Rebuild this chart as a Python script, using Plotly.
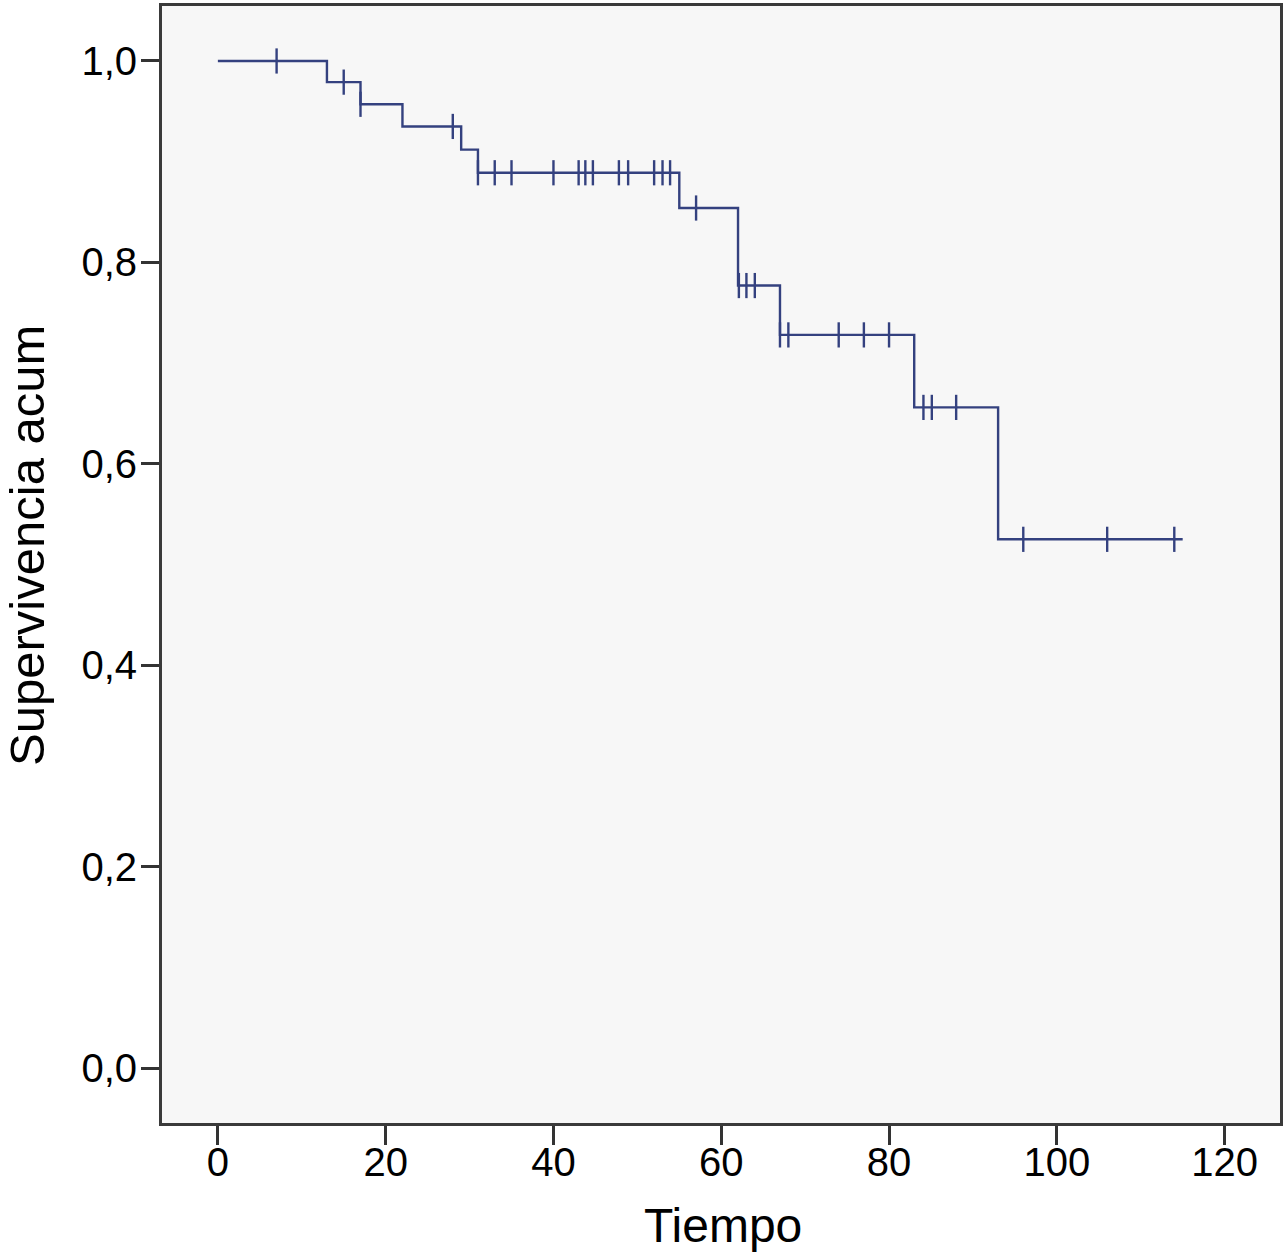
import plotly.graph_objects as go

# Kaplan-Meier step curve (event times and survival levels)
step_t = [0, 13, 17, 22, 29, 31, 55, 62, 67, 83, 93, 115]
step_s = [1.0, 0.979, 0.957, 0.935, 0.912, 0.889, 0.854, 0.777, 0.728, 0.656, 0.525, 0.525]

# Censored observations
cens_t = [7, 15, 17, 28, 31, 33, 35, 40, 43, 43.8, 44.7, 47.8, 48.9, 52, 53, 53.9,
          57, 62.1, 63, 64, 67, 68, 74, 77, 80, 84.1, 85.1, 88, 96, 106, 114]
cens_s = [1.0, 0.979, 0.957, 0.935, 0.889, 0.889, 0.889, 0.889, 0.889, 0.889, 0.889, 0.889, 0.889, 0.889, 0.889, 0.889,
          0.854, 0.777, 0.777, 0.777, 0.728, 0.728, 0.728, 0.728, 0.728, 0.656, 0.656, 0.656, 0.525, 0.525, 0.525]

x_ticks = [0, 20, 40, 60, 80, 100, 120]
y_ticks = [0.0, 0.2, 0.4, 0.6, 0.8, 1.0]
y_tick_labels = ["0,0", "0,2", "0,4", "0,6", "0,8", "1,0"]

x_title = "Tiempo"
y_title = "Supervivencia acum"

line_color = "#34417f"
font_family = "Liberation Sans, Arial, sans-serif"

fig = go.Figure()
fig.add_trace(go.Scatter(
    x=step_t, y=step_s, mode="lines", line=dict(shape="hv", color=line_color, width=2.4),
    showlegend=False, hoverinfo="skip"))
fig.add_trace(go.Scatter(
    x=cens_t, y=cens_s, mode="markers",
    marker=dict(symbol="line-ns-open", size=18, color=line_color,
                line=dict(color=line_color, width=2.4)),
    showlegend=False))

fig.update_layout(
    width=1286, height=1254,
    margin=dict(l=162, r=3, t=6, b=131),
    paper_bgcolor="white", plot_bgcolor="#f7f7f7",
    font=dict(family=font_family, size=40, color="black"),
    annotations=[
        dict(text=y_title, xref="paper", yref="paper", x=-0.1213, y=0.517,
             textangle=-90, showarrow=False, xanchor="center", yanchor="middle",
             font=dict(size=49, family=font_family, color="black")),
        dict(text=x_title, xref="paper", yref="paper", x=0.502, y=-0.0922,
             showarrow=False, xanchor="center", yanchor="middle",
             font=dict(size=48, family=font_family, color="black")),
    ],
)
fig.update_xaxes(
    range=[-6.66, 126.6], tickvals=x_ticks, ticks="outside", ticklen=19, tickwidth=3,
    tickcolor="#333", showgrid=False, zeroline=False, showline=True, linewidth=3,
    linecolor="#3a3a3a", mirror=True, tickfont=dict(size=40), ticklabelstandoff=-17)
fig.update_yaxes(
    range=[-0.0546, 1.0546], tickvals=y_ticks, ticktext=y_tick_labels, ticks="outside",
    ticklen=18, tickwidth=3, tickcolor="#333", showgrid=False, zeroline=False,
    showline=True, linewidth=3, linecolor="#3a3a3a", mirror=True, tickfont=dict(size=40),
    ticklabelstandoff=-4)

fig.write_html("out.html", config={"displayModeBar": False},
               post_script="document.body.style.margin='0';document.body.style.overflow='hidden';")
